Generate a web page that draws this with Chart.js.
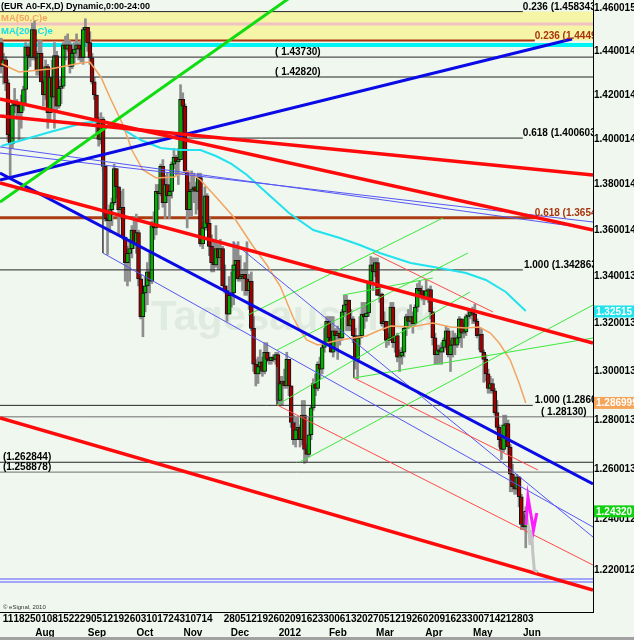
<!DOCTYPE html>
<html>
<head>
<meta charset="utf-8">
<script src="https://cdn.jsdelivr.net/npm/chart.js@4.4.1/dist/chart.umd.min.js"></script>
<style>
html, body { margin: 0; padding: 0; background: #eff7ef; overflow: hidden; }
canvas { display: block; }
</style>
</head>
<body>
<canvas id="chart" width="634" height="640"></canvas>
<script>
// EUR A0-FX daily candles, Jul 2011 - Jun 2012 (eSignal style)

// --- Candles: first bar is day -3 (Jul 6), day 0 = Mon Jul 11 ---
const firstDay = -3;
const opens = [
    1.4440, 1.4330, 1.4360,
    1.4255, 1.4020, 1.3980, 1.4155, 1.4165,
    1.4150, 1.4120, 1.4160, 1.4225, 1.4420,
    1.4380, 1.4370, 1.4500, 1.4370, 1.4310,
    1.4390, 1.4260, 1.4200, 1.4330, 1.4120,
    1.4280, 1.4190, 1.4380, 1.4150, 1.4230,
    1.4240, 1.4430, 1.4410, 1.4430, 1.4330,
    1.4390, 1.4410, 1.4430, 1.4410, 1.4370,
    1.4500, 1.4510, 1.4440, 1.4370, 1.4260,
    1.4200, 1.4080, 1.4000, 1.4090, 1.3880,
    1.3650, 1.3640, 1.3690, 1.3720, 1.3870,
    1.3790, 1.3690, 1.3700, 1.3570, 1.3460,
    1.3500, 1.3520, 1.3600, 1.3540, 1.3590,
    1.3390, 1.3230, 1.3330, 1.3360, 1.3420,
    1.3380, 1.3620, 1.3610, 1.3770, 1.3760,
    1.3880, 1.3720, 1.3800, 1.3750, 1.3770,
    1.3890, 1.3920, 1.3900, 1.3910, 1.4180,
    1.4150, 1.3860, 1.3690, 1.3770, 1.3780,
    1.3790, 1.3770, 1.3830, 1.3540, 1.3610,
    1.3750, 1.3630, 1.3530, 1.3460, 1.3450,
    1.3520, 1.3480, 1.3520, 1.3360, 1.3340,
    1.3240, 1.3320, 1.3330, 1.3450, 1.3470,
    1.3390, 1.3400, 1.3410, 1.3390, 1.3340,
    1.3380, 1.3180, 1.3030, 1.2990, 1.3020,
    1.3040, 1.3000, 1.3080, 1.3050, 1.3045,
    1.3060, 1.3050, 1.3070, 1.2880, 1.2950,
    1.2960, 1.2940, 1.3050, 1.2940, 1.2790,
    1.2720, 1.2760, 1.2770, 1.2720, 1.2820,
    1.2680, 1.2660, 1.2740, 1.2850, 1.2950,
    1.2930, 1.3030, 1.3010, 1.3100, 1.3120,
    1.3210, 1.3140, 1.3080, 1.3170, 1.3150,
    1.3160, 1.3140, 1.3250, 1.3280, 1.3300,
    1.3190, 1.3220, 1.3150, 1.3050, 1.3140,
    1.3150, 1.3240, 1.3230, 1.3245, 1.3380,
    1.3450, 1.3420, 1.3460, 1.3320, 1.3325,
    1.3200, 1.3210, 1.3130, 1.3140, 1.3270,
    1.3120, 1.3150, 1.3060, 1.3065, 1.3080,
    1.3180, 1.3230, 1.3210, 1.3230, 1.3200,
    1.3270, 1.3350, 1.3340, 1.3320, 1.3310,
    1.3340, 1.3345, 1.3250, 1.3140, 1.3070,
    1.3090, 1.3080, 1.3100, 1.3130, 1.3170,
    1.3070, 1.3110, 1.3140, 1.3110, 1.3140,
    1.3220, 1.3160, 1.3165, 1.3230, 1.3235,
    1.3250, 1.3240, 1.3210, 1.3150, 1.3155,
    1.3080, 1.3050, 1.2990, 1.2930, 1.2950,
    1.2920, 1.2830, 1.2770, 1.2720, 1.2680,
    1.2780, 1.2785, 1.2690, 1.2580, 1.2530,
    1.2520, 1.2570, 1.2490, 1.2380, 1.2370
];
const highs = [
    1.4460, 1.4390, 1.4375,
    1.4270, 1.4060, 1.4170, 1.4230, 1.4180,
    1.4160, 1.4200, 1.4240, 1.4440, 1.4425,
    1.4440, 1.4530, 1.4540, 1.4400, 1.4450,
    1.4450, 1.4270, 1.4360, 1.4340, 1.4280,
    1.4360, 1.4440, 1.4400, 1.4270, 1.4280,
    1.4440, 1.4470, 1.4480, 1.4450, 1.4430,
    1.4440, 1.4480, 1.4440, 1.4450, 1.4510,
    1.4550, 1.4510, 1.4490, 1.4390, 1.4280,
    1.4200, 1.4100, 1.4120, 1.4100, 1.3880,
    1.3680, 1.3710, 1.3740, 1.3890, 1.3870,
    1.3790, 1.3770, 1.3780, 1.3570, 1.3530,
    1.3560, 1.3620, 1.3660, 1.3670, 1.3600,
    1.3410, 1.3360, 1.3400, 1.3460, 1.3500,
    1.3640, 1.3680, 1.3800, 1.3800, 1.3890,
    1.3910, 1.3840, 1.3850, 1.3800, 1.3900,
    1.3960, 1.3930, 1.3960, 1.4247, 1.4210,
    1.4160, 1.3860, 1.3810, 1.3860, 1.3850,
    1.3810, 1.3850, 1.3850, 1.3640, 1.3790,
    1.3760, 1.3660, 1.3580, 1.3560, 1.3620,
    1.3540, 1.3560, 1.3530, 1.3450, 1.3360,
    1.3400, 1.3420, 1.3550, 1.3520, 1.3550,
    1.3490, 1.3430, 1.3460, 1.3550, 1.3410,
    1.3420, 1.3230, 1.3050, 1.3060, 1.3090,
    1.3060, 1.3120, 1.3120, 1.3080, 1.3060,
    1.3070, 1.3080, 1.3080, 1.2980, 1.2980,
    1.3010, 1.3080, 1.3050, 1.2940, 1.2820,
    1.2810, 1.2810, 1.2780, 1.2880, 1.2880,
    1.2700, 1.2810, 1.2860, 1.2970, 1.2990,
    1.3040, 1.3060, 1.3110, 1.3180, 1.3230,
    1.3230, 1.3230, 1.3230, 1.3180, 1.3190,
    1.3180, 1.3260, 1.3320, 1.3320, 1.3300,
    1.3260, 1.3230, 1.3180, 1.3150, 1.3230,
    1.3290, 1.3290, 1.3290, 1.3380, 1.3486,
    1.3480, 1.3480, 1.3480, 1.3360, 1.3330,
    1.3250, 1.3210, 1.3160, 1.3290, 1.3290,
    1.3150, 1.3160, 1.3090, 1.3100, 1.3190,
    1.3240, 1.3260, 1.3280, 1.3250, 1.3280,
    1.3370, 1.3380, 1.3360, 1.3340, 1.3385,
    1.3350, 1.3360, 1.3250, 1.3160, 1.3110,
    1.3110, 1.3120, 1.3140, 1.3190, 1.3180,
    1.3130, 1.3170, 1.3160, 1.3150, 1.3230,
    1.3220, 1.3200, 1.3240, 1.3260, 1.3260,
    1.3270, 1.3283, 1.3220, 1.3180, 1.3180,
    1.3090, 1.3070, 1.3010, 1.2980, 1.2970,
    1.2930, 1.2880, 1.2780, 1.2730, 1.2820,
    1.2820, 1.2800, 1.2700, 1.2620, 1.2570,
    1.2580, 1.2570, 1.2500, 1.2430, 1.2450
];
const lows = [
    1.4300, 1.4250, 1.4220,
    1.3990, 1.3837, 1.3960, 1.4120, 1.4090,
    1.3990, 1.4050, 1.4130, 1.4160, 1.4320,
    1.4330, 1.4360, 1.4360, 1.4290, 1.4290,
    1.4260, 1.4150, 1.4180, 1.4050, 1.4080,
    1.4120, 1.4050, 1.4130, 1.4140, 1.4160,
    1.4230, 1.4360, 1.4400, 1.4300, 1.4320,
    1.4340, 1.4380, 1.4360, 1.4350, 1.4340,
    1.4450, 1.4400, 1.4340, 1.4250, 1.4180,
    1.4030, 1.3970, 1.3980, 1.3860, 1.3640,
    1.3495, 1.3590, 1.3620, 1.3710, 1.3740,
    1.3580, 1.3650, 1.3560, 1.3380, 1.3360,
    1.3380, 1.3480, 1.3520, 1.3500, 1.3360,
    1.3220, 1.3145, 1.3250, 1.3280, 1.3330,
    1.3370, 1.3560, 1.3580, 1.3690, 1.3750,
    1.3700, 1.3650, 1.3720, 1.3650, 1.3740,
    1.3870, 1.3840, 1.3800, 1.3910, 1.4090,
    1.3850, 1.3610, 1.3660, 1.3660, 1.3720,
    1.3670, 1.3690, 1.3530, 1.3520, 1.3600,
    1.3600, 1.3490, 1.3420, 1.3420, 1.3440,
    1.3430, 1.3430, 1.3360, 1.3330, 1.3210,
    1.3240, 1.3270, 1.3280, 1.3420, 1.3380,
    1.3380, 1.3340, 1.3320, 1.3320, 1.3260,
    1.3170, 1.3000, 1.2940, 1.2950, 1.2990,
    1.2980, 1.2990, 1.3040, 1.3030, 1.3030,
    1.3040, 1.3030, 1.2860, 1.2860, 1.2860,
    1.2930, 1.2930, 1.2900, 1.2770, 1.2700,
    1.2690, 1.2720, 1.2690, 1.2700, 1.2624,
    1.2630, 1.2650, 1.2720, 1.2840, 1.2900,
    1.2920, 1.2970, 1.2990, 1.3080, 1.3110,
    1.3110, 1.3080, 1.3060, 1.3100, 1.3050,
    1.3110, 1.3130, 1.3230, 1.3170, 1.3170,
    1.3170, 1.3120, 1.3010, 1.2970, 1.3110,
    1.3140, 1.3180, 1.3210, 1.3230, 1.3360,
    1.3340, 1.3400, 1.3320, 1.3290, 1.3190,
    1.3170, 1.3100, 1.3110, 1.3130, 1.3100,
    1.3080, 1.3040, 1.3000, 1.3030, 1.3060,
    1.3150, 1.3180, 1.3190, 1.3160, 1.3190,
    1.3250, 1.3320, 1.3300, 1.3280, 1.3300,
    1.3290, 1.3220, 1.3110, 1.3030, 1.3030,
    1.3030, 1.3030, 1.3080, 1.3090, 1.3060,
    1.3000, 1.3060, 1.3070, 1.3100, 1.3120,
    1.3100, 1.3140, 1.3150, 1.3190, 1.3220,
    1.3200, 1.3200, 1.3140, 1.3090, 1.3080,
    1.2955, 1.2960, 1.2910, 1.2910, 1.2910,
    1.2820, 1.2760, 1.2690, 1.2640, 1.2670,
    1.2710, 1.2660, 1.2510, 1.2510, 1.2500,
    1.2500, 1.2450, 1.2360, 1.2360, 1.2288
];
const closes = [
    1.4330, 1.4360, 1.4255,
    1.4020, 1.3980, 1.4155, 1.4165, 1.4150,
    1.4120, 1.4160, 1.4225, 1.4420, 1.4380,
    1.4370, 1.4500, 1.4370, 1.4310, 1.4390,
    1.4260, 1.4200, 1.4330, 1.4120, 1.4280,
    1.4190, 1.4380, 1.4150, 1.4230, 1.4240,
    1.4430, 1.4410, 1.4430, 1.4330, 1.4390,
    1.4410, 1.4430, 1.4410, 1.4370, 1.4500,
    1.4510, 1.4440, 1.4370, 1.4260, 1.4200,
    1.4080, 1.4000, 1.4090, 1.3880, 1.3650,
    1.3640, 1.3690, 1.3720, 1.3870, 1.3790,
    1.3690, 1.3700, 1.3570, 1.3460, 1.3500,
    1.3520, 1.3600, 1.3540, 1.3590, 1.3390,
    1.3230, 1.3330, 1.3360, 1.3420, 1.3380,
    1.3620, 1.3610, 1.3770, 1.3760, 1.3880,
    1.3720, 1.3800, 1.3750, 1.3770, 1.3890,
    1.3920, 1.3900, 1.3910, 1.4180, 1.4150,
    1.3860, 1.3690, 1.3770, 1.3780, 1.3790,
    1.3770, 1.3830, 1.3540, 1.3610, 1.3750,
    1.3630, 1.3530, 1.3460, 1.3450, 1.3520,
    1.3480, 1.3520, 1.3360, 1.3340, 1.3240,
    1.3320, 1.3330, 1.3450, 1.3470, 1.3390,
    1.3400, 1.3410, 1.3390, 1.3340, 1.3380,
    1.3180, 1.3030, 1.2990, 1.3020, 1.3040,
    1.3000, 1.3080, 1.3050, 1.3045, 1.3060,
    1.3050, 1.3070, 1.2880, 1.2950, 1.2960,
    1.2940, 1.3050, 1.2940, 1.2790, 1.2720,
    1.2760, 1.2770, 1.2720, 1.2820, 1.2680,
    1.2660, 1.2740, 1.2850, 1.2950, 1.2930,
    1.3030, 1.3010, 1.3100, 1.3120, 1.3210,
    1.3140, 1.3080, 1.3170, 1.3150, 1.3160,
    1.3140, 1.3250, 1.3280, 1.3300, 1.3190,
    1.3220, 1.3150, 1.3050, 1.3140, 1.3150,
    1.3240, 1.3230, 1.3245, 1.3380, 1.3450,
    1.3420, 1.3460, 1.3320, 1.3325, 1.3200,
    1.3210, 1.3130, 1.3140, 1.3270, 1.3120,
    1.3150, 1.3060, 1.3065, 1.3080, 1.3180,
    1.3230, 1.3210, 1.3230, 1.3200, 1.3270,
    1.3350, 1.3340, 1.3320, 1.3310, 1.3340,
    1.3345, 1.3250, 1.3140, 1.3070, 1.3090,
    1.3080, 1.3100, 1.3130, 1.3170, 1.3070,
    1.3110, 1.3140, 1.3110, 1.3140, 1.3220,
    1.3160, 1.3165, 1.3230, 1.3235, 1.3250,
    1.3240, 1.3210, 1.3150, 1.3155, 1.3080,
    1.3050, 1.2990, 1.2930, 1.2950, 1.2920,
    1.2830, 1.2770, 1.2720, 1.2680, 1.2780,
    1.2785, 1.2690, 1.2580, 1.2530, 1.2520,
    1.2570, 1.2490, 1.2380, 1.2370, 1.2432
];

// --- Moving averages (day, price) ---
const ma50Days = [-3, 5, 19, 33, 37, 42, 46, 52, 56, 61, 67, 75, 81, 87, 94, 102, 111, 117, 123, 129,
    132, 135, 140, 144, 150, 156, 162, 167, 173, 182, 192, 200, 207, 213, 218, 222, 227, 231, 234];
const ma50Vals = [1.43427, 1.43049, 1.43186, 1.43460, 1.43506, 1.42820, 1.41911, 1.40647, 1.39529, 1.38640,
    1.38287, 1.38331, 1.38596, 1.38198, 1.37450, 1.36575, 1.35272, 1.34497, 1.33598, 1.32239,
    1.31733, 1.31313, 1.31104, 1.31188, 1.31313, 1.31397, 1.31481, 1.31691, 1.31902, 1.31860,
    1.32028, 1.31860, 1.31818, 1.31860, 1.31607, 1.31188, 1.30477, 1.29523, 1.28698];
const ma200Days = [-3, 5, 19, 34, 42, 51, 60, 69, 78, 87, 94, 101, 108, 117, 127, 138, 150, 159, 168, 182,
    195, 207, 216, 225, 234];
const ma200Vals = [1.39707, 1.39931, 1.40333, 1.40737, 1.40827, 1.40513, 1.39975, 1.39618, 1.39529, 1.39529,
    1.39262, 1.38907, 1.38419, 1.37626, 1.36749, 1.36009, 1.35662, 1.35359, 1.35013, 1.34583,
    1.34368, 1.34154, 1.33854, 1.33342, 1.32536];

// --- Projection drawings after the last bar ---
const projDays = [234.1, 235.5, 235.9, 236.8, 237.2, 237.9, 239.3];
const projVals = [1.24294, 1.23582, 1.22991, 1.23385, 1.22676, 1.22012, 1.21934];
const waveDays = [234.1, 235.0, 237.5, 239.0];
const waveVals = [1.23779, 1.24891, 1.23582, 1.24254];

// --- Axes ---
const xMin = -3.6, xMax = 264.4;
const yMin = 1.20387, yMax = 1.46376;
const yTicks = [1.460015, 1.440014, 1.420014, 1.400014, 1.380014, 1.360014, 1.340013,
    1.320013, 1.300013, 1.280013, 1.260013, 1.240012, 1.220012];
const tickDays = [0, 5, 10, 15, 20, 25, 30, 35, 40, 45, 50, 55, 60, 65, 70, 75, 80, 85, 90,
    100, 105, 110, 115, 120, 125, 130, 135, 140, 145, 150, 155, 160, 165, 170, 175, 180,
    185, 190, 195, 200, 205, 210, 215, 220, 225, 230, 235];
const tickText = ['11', '18', '25', '01', '08', '15', '22', '29', '05', '12', '19', '26', '03', '10',
    '17', '24', '31', '07', '14', '28', '05', '12', '19', '26', '02', '09', '16', '23', '30', '06',
    '13', '20', '27', '05', '12', '19', '26', '02', '09', '16', '23', '30', '07', '14', '21', '28', '03'];
const monthDays = [16.7, 40.2, 61.9, 83.6, 104.8, 127.4, 149.1, 170.4, 192.5, 214.6, 236.8];
const monthText = ['Aug', 'Sep', 'Oct', 'Nov', 'Dec', '2012', 'Feb', 'Mar', 'Apr', 'May', 'Jun'];

// --- Horizontal levels: [price, last day] ---
const fibBand = [1.458343, 1.4449];
const pinkLevel = 1.4526;
const cyanLevel = 1.4429;
const brownThin = [[1.4449, 238.1]];
const brownThick = [[1.3654, 238.1]];
const blackLevels = [[1.458343, 232.7], [1.43730, xMax], [1.42820, xMax], [1.400603, 232.7],
    [1.342863, 232.7], [1.2860, 237.2], [1.262844, xMax]];
const grayLevels = [[1.28130, xMax], [1.258878, xMax]];
const blueLevels = [1.21662, 1.21546];

const levelLabels = [
    ['0.236 (1.458343', 1.458343, 232.7, 'k'],
    ['0.236 (1.4449', 1.4449, 238.1, 'b'],
    ['( 1.43730)', 1.43730, 120.7, 'k'],
    ['( 1.42820)', 1.42820, 120.7, 'k'],
    ['0.618 (1.400603', 1.400603, 232.7, 'k'],
    ['0.618 (1.3654', 1.3654, 238.1, 'b'],
    ['1.000 (1.342863', 1.342863, 233.2, 'k'],
    ['1.000 (1.2860', 1.2860, 238.1, 'k'],
    ['( 1.28130)', 1.28130, 240.9, 'k'],
    ['(1.262844)', 1.262844, -2.3, 'k'],
    ['(1.258878)', 1.258878, -2.3, 'k']
];
const valueBoxes = [['1.32515', 1.32515, '#22e2ee'], ['1.286999', 1.286999, '#f5a55a'], ['1.24320', 1.24320, '#12d012']];

// --- Trend lines: pairs of [day, price] ---
const redThick = [
    [[-3.6, 1.41820], [264.4, 1.36009]],
    [[-3.6, 1.41052], [264.4, 1.38419]],
    [[-3.6, 1.38066], [264.4, 1.31188]],
    [[-3.6, 1.28083], [264.4, 1.21236]]
];
const blueThick = [
    [[-3.6, 1.38198], [254.9, 1.44564]],
    [[-3.6, 1.38508], [264.4, 1.25411]]
];
const greenThick = [[[-3.6, 1.37230], [145.5, 1.4781]]];
const blueThin = [
    [[-3.6, 1.39663], [264.4, 1.36052]],
    [[-3.6, 1.39395], [264.4, 1.36357]],
    [[101.7, 1.35489], [264.4, 1.23305]],
    [[42.9, 1.35013], [264.4, 1.23700]]
];
const greenThin = [
    [[108.5, 1.32366], [196.6, 1.36531]],
    [[121.6, 1.30895], [207.9, 1.35013]],
    [[121.6, 1.28616], [208.8, 1.33342]],
    [[151.4, 1.33214], [192.0, 1.33940]],
    [[156.3, 1.29730], [264.4, 1.31397]],
    [[131.9, 1.26296], [264.4, 1.32790]]
];
const redThin = [
    [[164.9, 1.35013], [219.2, 1.32493]],
    [[156.3, 1.29730], [239.5, 1.25973]],
    [[121.6, 1.28616], [264.4, 1.22207]]
];
const handles = [
    [[42.9, 1.39084], [42.9, 1.35013]],
    [[121.6, 1.30185], [121.6, 1.28616]],
    [[156.3, 1.30561], [156.3, 1.29730]]
];

// --- Dataset helpers ---
const FONT = '"Liberation Sans", Arial, sans-serif';
Chart.defaults.font.family = FONT;

function lineSet(pts, color, width, order) {
    return {
        type: 'line',
        data: pts.map(p => ({ x: p[0], y: p[1] })),
        borderColor: color,
        borderWidth: width,
        pointRadius: 0,
        fill: false,
        tension: 0,
        clip: 0,
        order: order
    };
}

function levelSet(value, end, color, width, order) {
    return lineSet([[xMin, value], [end, value]], color, width, order);
}

const days = opens.map((_, i) => firstDay + i);

const datasets = [];

// fib zone
datasets.push({
    type: 'line',
    data: [{ x: xMin, y: fibBand[0] }, { x: xMax, y: fibBand[0] }],
    borderColor: 'rgba(0,0,0,0)',
    borderWidth: 0,
    pointRadius: 0,
    fill: { value: fibBand[1] },
    backgroundColor: '#f6f4a6',
    order: 100
});
datasets.push(levelSet(pinkLevel, xMax, '#f0c2c2', 3, 95));
datasets.push(levelSet(cyanLevel, xMax, '#00f4f4', 4, 95));
brownThin.forEach(l => datasets.push(levelSet(l[0], l[1], '#a8340c', 2, 94)));
brownThick.forEach(l => datasets.push(levelSet(l[0], l[1], '#ac3c14', 3, 94)));

// candles
datasets.push({
    type: 'bar',
    data: days.map((d, i) => ({ x: d, y: [lows[i], highs[i]] })),
    backgroundColor: '#8e8e8e',
    barThickness: 2,
    grouped: false,
    order: 51
});
datasets.push({
    type: 'bar',
    data: days.map((d, i) => ({ x: d, y: [opens[i], closes[i]] })),
    backgroundColor: days.map((d, i) => closes[i] >= opens[i] ? '#00b000' : '#a00000'),
    borderColor: '#141414',
    borderWidth: 1,
    borderSkipped: false,
    barThickness: 4,
    grouped: false,
    order: 50
});

// levels over candles
blackLevels.forEach(l => datasets.push(levelSet(l[0], l[1], '#262626', 1, 20)));
grayLevels.forEach(l => datasets.push(levelSet(l[0], l[1], '#6e6e6e', 1, 20)));
blueLevels.forEach(v => datasets.push(levelSet(v, xMax, '#8a8aff', 1.5, 20)));

// moving averages
datasets.push(lineSet(ma50Days.map((d, i) => [d, ma50Vals[i]]), '#f4a460', 1.5, 15));
datasets.push(lineSet(ma200Days.map((d, i) => [d, ma200Vals[i]]), '#22e2ee', 2, 15));

// trend lines
handles.forEach(l => datasets.push(lineSet(l, '#505050', 1, 12)));
greenThin.forEach(l => datasets.push(lineSet(l, '#3ee83e', 1, 11)));
redThin.forEach(l => datasets.push(lineSet(l, '#ff4a4a', 1, 11)));
blueThin.forEach(l => datasets.push(lineSet(l, '#5656f4', 1, 11)));
greenThick.forEach(l => datasets.push(lineSet(l, '#10dc10', 3, 5)));
blueThick.forEach(l => datasets.push(lineSet(l, '#0a0ae6', 3, 5)));
redThick.forEach(l => datasets.push(lineSet(l, '#ff0a0a', 3.5, 4)));

// projection
datasets.push(lineSet(projDays.map((d, i) => [d, projVals[i]]), '#c4c4c4', 3, 3));
datasets.push(lineSet(waveDays.map((d, i) => [d, waveVals[i]]), '#ff1aff', 3, 2));

// --- Text & decoration plugin ---
const decorations = {
    id: 'decorations',
    beforeDraw(chart) {
        const ctx = chart.ctx;
        ctx.save();
        ctx.fillStyle = '#eff7ef';
        ctx.fillRect(0, 0, chart.width, chart.height);
        ctx.restore();
    },
    beforeDatasetsDraw(chart) {
        const ctx = chart.ctx;
        ctx.save();
        ctx.font = 'bold 42px ' + FONT;
        ctx.fillStyle = 'rgba(100,140,100,0.10)';
        ctx.fillText('Tagesausblick', 151, 330);
        ctx.font = 'bold 9px ' + FONT;
        ctx.fillStyle = '#000';
        ctx.fillText('(EUR A0-FX,D) Dynamic,0:00-24:00', 1, 9);
        ctx.font = 'bold 9.5px ' + FONT;
        ctx.fillStyle = '#f4a460';
        ctx.fillText('MA(50,C)e', 1, 21);
        ctx.fillStyle = '#10e0ea';
        ctx.fillText('MA(200,C)e', 1, 34);
        ctx.restore();
    },
    afterDatasetsDraw(chart) {
        const { ctx, chartArea } = chart;
        const x = chart.scales.x, y = chart.scales.y;
        ctx.save();
        ctx.beginPath();
        ctx.rect(chartArea.left, chartArea.top, chartArea.right - chartArea.left, chartArea.bottom - chartArea.top);
        ctx.clip();
        ctx.font = 'bold 10px ' + FONT;
        ctx.textBaseline = 'alphabetic';
        levelLabels.forEach(([text, value, day, tone]) => {
            ctx.fillStyle = tone === 'b' ? '#a8340c' : '#000';
            ctx.fillText(text, x.getPixelForValue(day), y.getPixelForValue(value) - 2);
        });
        ctx.restore();
    },
    afterDraw(chart) {
        const ctx = chart.ctx;
        const y = chart.scales.y;
        ctx.save();
        ctx.font = 'bold 10px ' + FONT;
        ctx.textBaseline = 'middle';
        valueBoxes.forEach(([text, value, color]) => {
            const py = y.getPixelForValue(value);
            ctx.fillStyle = color;
            ctx.fillRect(594, py - 6, 40, 12);
            ctx.fillStyle = '#fff';
            ctx.fillText(text, 596, py + 0.5);
        });
        ctx.textBaseline = 'alphabetic';
        ctx.font = '6px ' + FONT;
        ctx.fillStyle = '#333';
        ctx.fillText('\u00a9 eSignal, 2010', 3, 609);
        ctx.fillStyle = '#a2a2a2';
        ctx.fillRect(0, 637, chart.width, 3);
        ctx.restore();
    }
};

const tickFont = { family: FONT, size: 10, weight: 'bold' };

new Chart(document.getElementById('chart'), {
    type: 'bar',
    data: { datasets },
    plugins: [decorations],
    options: {
        responsive: false,
        animation: false,
        devicePixelRatio: 1,
        events: [],
        layout: { padding: 0 },
        plugins: {
            legend: { display: false },
            tooltip: { enabled: false },
            filler: { drawTime: 'beforeDatasetsDraw' }
        },
        scales: {
            x: {
                type: 'linear',
                position: 'bottom',
                min: xMin,
                max: xMax,
                offset: false,
                bounds: 'data',
                weight: 0,
                afterBuildTicks: s => { s.ticks = tickDays.map(v => ({ value: v })); },
                afterFit: s => { s.height = 14; s.paddingLeft = 0; s.paddingRight = 0; },
                ticks: {
                    callback: (v, i) => tickText[i],
                    autoSkip: false, maxRotation: 0, minRotation: 0,
                    padding: 1, color: '#000', font: tickFont
                },
                grid: { display: false, drawTicks: false, offset: false },
                border: { display: true, color: '#000', width: 1 }
            },
            x2: {
                type: 'linear',
                position: 'bottom',
                min: xMin,
                max: xMax,
                offset: false,
                bounds: 'data',
                weight: 1,
                afterBuildTicks: s => { s.ticks = monthDays.map(v => ({ value: v })); },
                afterFit: s => { s.height = 14; s.paddingLeft = 0; s.paddingRight = 0; },
                ticks: {
                    callback: (v, i) => monthText[i],
                    autoSkip: false, maxRotation: 0, minRotation: 0,
                    padding: 1, color: '#000', font: tickFont
                },
                grid: { display: false, drawTicks: false, offset: false },
                border: { display: false }
            },
            y: {
                type: 'logarithmic',
                position: 'right',
                min: yMin,
                max: yMax,
                bounds: 'data',
                beginAtZero: false,
                afterBuildTicks: s => { s.ticks = yTicks.map(v => ({ value: v })); },
                afterFit: s => { s.width = 41; s.paddingTop = 0; s.paddingBottom = 0; },
                ticks: {
                    callback: v => Number(v).toFixed(6),
                    autoSkip: false,
                    padding: 1, color: '#000', font: tickFont
                },
                grid: { display: false, drawTicks: false },
                border: { display: true, color: '#000', width: 1 }
            }
        }
    }
});
</script>
</body>
</html>
